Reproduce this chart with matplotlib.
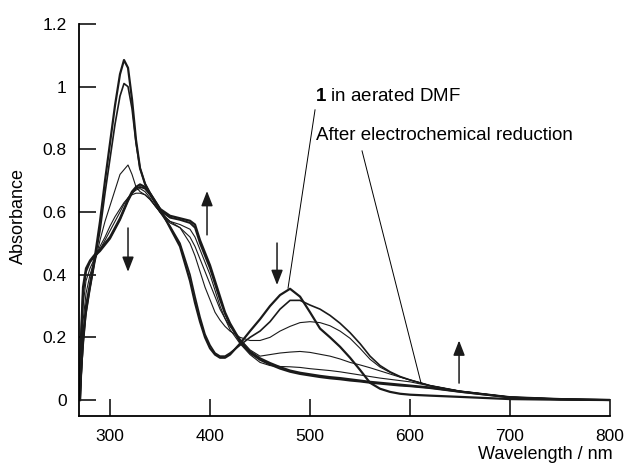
import matplotlib
matplotlib.use("Agg")
import matplotlib.pyplot as plt

plt.rcParams['font.family'] = ['Liberation Sans', 'DejaVu Sans']
plt.rcParams['mathtext.fontset'] = 'custom'
plt.rcParams['mathtext.bf'] = 'Liberation Sans:bold'
plt.rcParams['mathtext.rm'] = 'Liberation Sans'

# wavelength grid (nm)
wl = [270, 271, 273, 276, 280, 285, 290, 295, 300, 305, 310, 314, 318, 322, 326, 330,
      335, 340, 345, 350, 360, 370, 380, 385, 390, 395, 400, 405, 410, 415, 420, 430,
      440, 450, 460, 470, 480, 490, 500, 510, 520, 530, 540, 550, 560, 570, 580, 590,
      600, 620, 650, 700, 750, 800]

# 1 in aerated DMF
a1 = [0.0, 0.08, 0.2, 0.3, 0.37, 0.46, 0.57, 0.70, 0.82, 0.94, 1.04, 1.085, 1.06, 0.96, 0.83, 0.74,
      0.69, 0.66, 0.635, 0.61, 0.55, 0.49, 0.38, 0.31, 0.25, 0.2, 0.165, 0.145, 0.135, 0.135, 0.145, 0.18,
      0.22, 0.258, 0.3, 0.335, 0.355, 0.33, 0.28, 0.228, 0.2, 0.17, 0.135, 0.096, 0.055, 0.036, 0.026, 0.02,
      0.017, 0.014, 0.01, 0.003, 0.001, 0.0]
a2 = [0.0, 0.07, 0.18, 0.28, 0.36, 0.45, 0.54, 0.66, 0.77, 0.88, 0.97, 1.01, 1.0, 0.93, 0.82, 0.74,
      0.69, 0.66, 0.63, 0.6, 0.555, 0.5, 0.4, 0.33, 0.265, 0.21, 0.175, 0.15, 0.14, 0.14, 0.15, 0.175,
      0.2, 0.22, 0.25, 0.29, 0.318, 0.318, 0.303, 0.29, 0.27, 0.245, 0.215, 0.18, 0.14, 0.11, 0.09, 0.075,
      0.064, 0.046, 0.028, 0.009, 0.003, 0.0]
a3 = [0.0, 0.06, 0.16, 0.27, 0.35, 0.44, 0.51, 0.57, 0.62, 0.67, 0.72, 0.735, 0.75, 0.72, 0.68, 0.665,
      0.655, 0.64, 0.62, 0.6, 0.57, 0.55, 0.5, 0.46, 0.41, 0.36, 0.32, 0.28, 0.255, 0.235, 0.22, 0.2,
      0.19, 0.19, 0.2, 0.22, 0.235, 0.247, 0.25, 0.247, 0.237, 0.22, 0.197, 0.165, 0.13, 0.105, 0.088, 0.074,
      0.064, 0.046, 0.028, 0.009, 0.003, 0.0]
a4 = [0.0, 0.1, 0.25, 0.34, 0.4, 0.45, 0.49, 0.52, 0.555, 0.585, 0.61, 0.63, 0.645, 0.655, 0.66, 0.66,
      0.655, 0.64, 0.62, 0.6, 0.565, 0.55, 0.52, 0.49, 0.45, 0.41, 0.37, 0.33, 0.29, 0.26, 0.235, 0.195,
      0.16, 0.14, 0.145, 0.15, 0.153, 0.155, 0.152, 0.146, 0.14, 0.131, 0.12, 0.112, 0.103, 0.093, 0.083, 0.073,
      0.064, 0.046, 0.028, 0.009, 0.003, 0.0]
a5 = [0.0, 0.15, 0.3, 0.38, 0.42, 0.455, 0.48, 0.51, 0.54, 0.57, 0.6, 0.625, 0.645, 0.66, 0.67, 0.675,
      0.665, 0.645, 0.62, 0.6, 0.57, 0.56, 0.545, 0.52, 0.48, 0.44, 0.4, 0.35, 0.3, 0.26, 0.225, 0.18,
      0.145, 0.12, 0.11, 0.107, 0.106, 0.104, 0.1, 0.097, 0.094, 0.09, 0.085, 0.08, 0.075, 0.07, 0.066, 0.062,
      0.058, 0.045, 0.028, 0.009, 0.003, 0.0]
# after electrochemical reduction
a6 = [0.0, 0.2, 0.36, 0.42, 0.445, 0.465, 0.48, 0.5, 0.52, 0.55, 0.58, 0.61, 0.64, 0.665, 0.68, 0.688,
      0.68, 0.66, 0.635, 0.61, 0.588, 0.58, 0.572, 0.56, 0.51, 0.47, 0.43, 0.38, 0.33, 0.28, 0.245, 0.19,
      0.155, 0.133, 0.118, 0.105, 0.094, 0.087, 0.082, 0.077, 0.073, 0.07, 0.066, 0.062, 0.058, 0.055, 0.052, 0.049,
      0.046, 0.04, 0.027, 0.009, 0.003, 0.0]
a7 = [0.0, 0.18, 0.34, 0.41, 0.44, 0.46, 0.475, 0.495, 0.515, 0.545, 0.575, 0.605, 0.635, 0.66, 0.675, 0.68,
      0.675, 0.655, 0.63, 0.605, 0.582, 0.575, 0.565, 0.55, 0.5, 0.46, 0.42, 0.37, 0.32, 0.275, 0.24, 0.185,
      0.15, 0.128, 0.113, 0.1, 0.09, 0.083, 0.078, 0.073, 0.069, 0.066, 0.062, 0.059, 0.055, 0.052, 0.049, 0.046,
      0.044, 0.038, 0.026, 0.008, 0.002, 0.0]

spectra = [a1, a2, a3, a4, a5, a6, a7]
widths = [1.6, 1.2, 0.8, 0.8, 0.8, 1.6, 1.4]

xticks = [300, 400, 500, 600, 700, 800]
yticks = [0, 0.2, 0.4, 0.6, 0.8, 1.0, 1.2]
ytick_labels = ['0', '0.2', '0.4', '0.6', '0.8', '1', '1.2']

fig = plt.figure(figsize=(6.27, 4.63), dpi=100)
ax = fig.add_axes([0.126, 0.1015, 0.847, 0.8467])

for y, lw in zip(spectra, widths):
    ax.plot(wl, y, color='#1a1a1a', lw=lw, solid_joinstyle='round')

ax.set_xlim(269, 800)
ax.set_ylim(-0.051, 1.2)
ax.spines['top'].set_visible(False)
ax.spines['right'].set_visible(False)
for s in ['left', 'bottom']:
    ax.spines[s].set_linewidth(1.3)
ax.set_xticks(xticks)
ax.set_xticklabels([str(v) for v in xticks])
ax.set_yticks(yticks)
ax.set_yticklabels(ytick_labels)
ax.tick_params(direction='in', length=12, width=1.1, labelsize=12.5, pad=9)

fig.text(0.030, 0.533, 'Absorbance', rotation=90, ha='center', va='center', fontsize=13)
fig.text(0.977, 0.008, 'Wavelength / nm', ha='right', va='baseline', fontsize=13)

# annotations
ax.text(505, 0.967, r'$\mathbf{1}$ in aerated DMF', fontsize=13.5, ha='left', va='center')
ax.text(506, 0.843, 'After electrochemical reduction', fontsize=13.5, ha='left', va='center')
ax.plot([505, 478], [0.926, 0.357], color='k', lw=0.7)
ax.plot([552, 611], [0.795, 0.054], color='k', lw=0.7)

arrows = [((318, 0.549), (318, 0.409)),
          ((397, 0.527), (397, 0.667)),
          ((467, 0.501), (467, 0.367)),
          ((649, 0.054), (649, 0.19))]
for tail, tip in arrows:
    ax.annotate('', xy=tip, xytext=tail,
                arrowprops=dict(arrowstyle='-|>,head_length=0.9,head_width=0.35',
                                color='#1a1a1a', lw=1.1, shrinkA=0, shrinkB=0))

fig.savefig('out.png', dpi=100)
